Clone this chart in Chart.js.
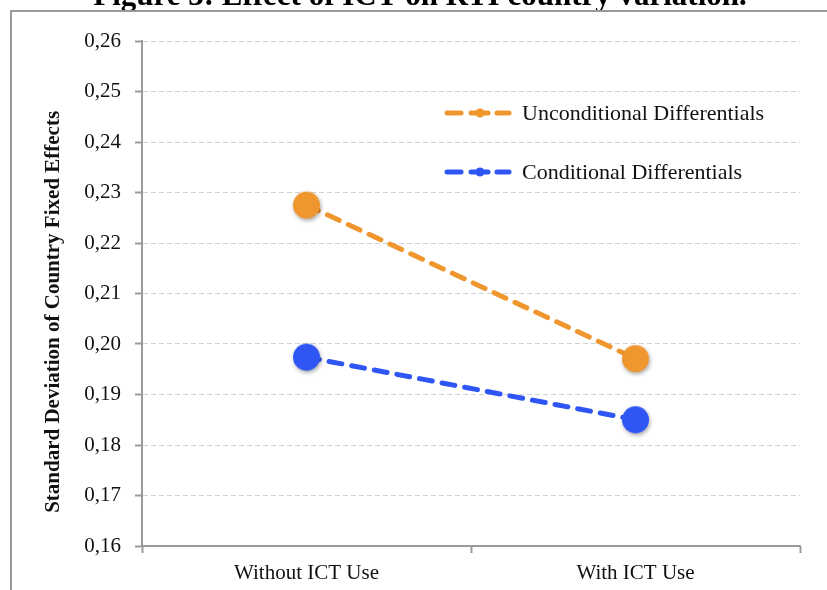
<!DOCTYPE html>
<html>
<head>
<meta charset="utf-8">
<script src="https://cdn.jsdelivr.net/npm/chart.js@4/dist/chart.umd.min.js"></script>
<style>
  html, body { margin: 0; padding: 0; background: #fff; }
  #wrap { width: 827px; height: 590px; position: relative; }
</style>
</head>
<body>
<div id="wrap"><canvas id="chart" width="827" height="590"></canvas></div>
<script>
const categorias = ["Without ICT Use", "With ICT Use"];
const incondicional = [0.2275, 0.1971];
const condicional = [0.1974, 0.1850];
const nomesSeries = ["Unconditional Differentials", "Conditional Differentials"];
const coresSeries = ["#F0962E", "#2F56F5"];
const titulo = "Figure 3: Effect of ICT on RTI country variation.";
const tituloEixoY = "Standard Deviation of Country Fixed Effects";

const serif = "'Liberation Serif', 'Times New Roman', serif";

// bolinha com sombra para os pontos
function bolinha(cor, raio) {
    const c = document.createElement("canvas");
    const tam = raio * 2 + 12;
    c.width = tam;
    c.height = tam;
    const ctx = c.getContext("2d");
    ctx.shadowColor = "rgba(0,0,0,0.35)";
    ctx.shadowBlur = 4;
    ctx.shadowOffsetX = 1;
    ctx.shadowOffsetY = 2;
    ctx.fillStyle = cor;
    ctx.beginPath();
    ctx.arc(tam / 2, tam / 2, raio, 0, Math.PI * 2);
    ctx.fill();
    return c;
}

const moldura = {
    id: "moldura",
    beforeDraw(chart) {
        const ctx = chart.ctx;
        ctx.save();
        ctx.fillStyle = "#000";
        ctx.font = "bold 31px " + serif;
        ctx.textAlign = "center";
        ctx.textBaseline = "alphabetic";
        ctx.fillText(titulo, 420, 5);
        ctx.strokeStyle = "#9a9a9a";
        ctx.lineWidth = 2;
        ctx.beginPath();
        ctx.moveTo(11, 590);
        ctx.lineTo(11, 11);
        ctx.lineTo(827, 11);
        ctx.stroke();
        ctx.restore();
    }
};

const legenda = {
    id: "legenda",
    afterDraw(chart) {
        const ctx = chart.ctx;
        const ys = [113, 172];
        chart.data.datasets.forEach((ds, i) => {
            const y = ys[i];
            ctx.save();
            ctx.strokeStyle = ds.borderColor;
            ctx.lineWidth = 5;
            ctx.lineCap = "round";
            [[447, 461], [471, 488], [497, 509]].forEach(([a, b]) => {
                ctx.beginPath();
                ctx.moveTo(a, y);
                ctx.lineTo(b, y);
                ctx.stroke();
            });
            ctx.fillStyle = ds.borderColor;
            ctx.beginPath();
            ctx.arc(480, y, 4.5, 0, Math.PI * 2);
            ctx.fill();
            ctx.fillStyle = "#111";
            ctx.font = "22px " + serif;
            ctx.textAlign = "left";
            ctx.textBaseline = "middle";
            ctx.fillText(ds.label, 522, y + 1);
            ctx.restore();
        });
    }
};

const ctx = document.getElementById("chart").getContext("2d");
new Chart(ctx, {
    type: "line",
    data: {
        labels: categorias,
        datasets: [
            {
                label: nomesSeries[0],
                data: incondicional,
                borderColor: coresSeries[0],
                backgroundColor: coresSeries[0],
                borderWidth: 5,
                borderDash: [13, 10],
                borderCapStyle: "round",
                pointStyle: bolinha(coresSeries[0], 13.5),
                pointRadius: 13.5,
            },
            {
                label: nomesSeries[1],
                data: condicional,
                borderColor: coresSeries[1],
                backgroundColor: coresSeries[1],
                borderWidth: 5,
                borderDash: [13, 10],
                borderCapStyle: "round",
                pointStyle: bolinha(coresSeries[1], 13.5),
                pointRadius: 13.5,
            },
        ],
    },
    options: {
        responsive: false,
        animation: false,
        events: [],
        layout: { padding: { left: 11, top: 41, right: 27, bottom: 0 } },
        plugins: {
            legend: { display: false },
            tooltip: { enabled: false },
        },
        scales: {
            x: {
                offset: true,
                grid: {
                    drawOnChartArea: false,
                    drawTicks: true,
                    tickLength: 7,
                    tickColor: "#9a9a9a",
                    tickWidth: 2,
                    offset: true,
                },
                border: { color: "#9a9a9a", width: 2 },
                ticks: {
                    color: "#111",
                    font: { family: serif, size: 21 },
                    padding: 8,
                },
                afterFit: scale => { scale.height = 44; },
            },
            y: {
                min: 0.16,
                max: 0.26,
                ticks: {
                    stepSize: 0.01,
                    color: "#111",
                    font: { family: serif, size: 21 },
                    padding: 14,
                    callback: v => v.toFixed(2).replace(".", ","),
                },
                grid: {
                    color: "#d2d2d2",
                    lineWidth: 1,
                    tickLength: 7,
                    tickColor: "#9a9a9a",
                    tickWidth: 2,
                    tickBorderDash: [],
                },
                border: { color: "#9a9a9a", width: 2, dash: [5, 3] },
                title: {
                    display: true,
                    // espaços no fim empurram o título um pouco para baixo
                    text: tituloEixoY + "       ",
                    color: "#111",
                    font: { family: serif, size: 21, weight: "bold" },
                    padding: { top: 30, bottom: 0 },
                },
                afterFit: scale => { scale.width = 131; },
            },
        },
    },
    plugins: [moldura, legenda],
});
</script>
</body>
</html>
